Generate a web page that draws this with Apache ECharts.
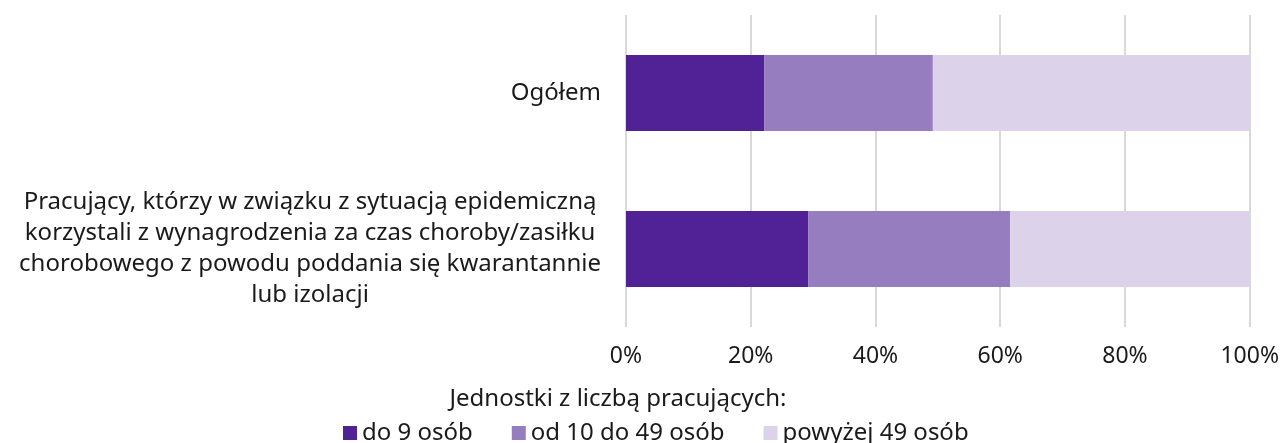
<!DOCTYPE html>
<html>
<head>
<meta charset="utf-8">
<script src="https://cdn.jsdelivr.net/npm/echarts@6/dist/echarts.min.js"></script>
<style>
  html, body { margin: 0; padding: 0; background: #fff; }
  #chart { width: 1282px; height: 443px; }
</style>
</head>
<body>
<div id="chart"></div>
<script>
  // kategorie (od góry)
  var categories = [
    'Ogółem',
    'Pracujący, którzy w związku z sytuacją epidemiczną\nkorzystali z wynagrodzenia za czas choroby/zasiłku\nchorobowego z powodu poddania się kwarantannie\nlub izolacji'
  ];
  var seriesNames = ['do 9 osób', 'od 10 do 49 osób', 'powyżej 49 osób'];
  var small = [22.2, 29.2];
  var medium = [27.0, 32.4];
  var large = [50.8, 38.4];
  var colors = ['#512295', '#967dbf', '#dcd3ea'];

  var font = 'Noto Sans';
  var fs = 24;
  var chart = echarts.init(document.getElementById('chart'));

  var values = [small, medium, large];
  var series = seriesNames.map(function (name, i) {
    return {
      name: name,
      type: 'bar',
      stack: 'total',
      barWidth: 76,
      itemStyle: { color: colors[i] },
      data: values[i]
    };
  });

  chart.setOption({
    animation: false,
    title: {
      text: 'Jednostki z liczbą pracujących:',
      left: 618,
      textAlign: 'center',
      top: 387,
      padding: 0,
      textStyle: { fontFamily: font, fontSize: fs, fontWeight: 'normal', color: '#1a1a1a' }
    },
    legend: {
      data: seriesNames,
      left: 343,
      top: 421,
      padding: 0,
      icon: 'rect',
      itemWidth: 14,
      itemHeight: 14,
      itemGap: 39,
      textStyle: { fontFamily: font, fontSize: fs, color: '#1a1a1a' }
    },
    grid: {
      left: 626,
      right: 32,
      top: 15,
      bottom: 116
    },
    xAxis: {
      type: 'value',
      min: 0,
      max: 100,
      interval: 20,
      axisLine: { show: false },
      axisTick: { show: false },
      splitLine: { lineStyle: { color: '#d9d9d9', width: 2 } },
      axisLabel: {
        formatter: '{value}%',
        margin: 18,
        fontFamily: font,
        fontSize: 23,
        color: '#1a1a1a'
      }
    },
    yAxis: {
      type: 'category',
      inverse: true,
      data: categories,
      axisLine: { show: false },
      axisTick: { show: false },
      axisLabel: {
        margin: 25,
        fontFamily: font,
        fontSize: fs,
        lineHeight: 31,
        color: '#1a1a1a',
        formatter: function (v) {
          return v.split('\n').map(function (l) { return '{c|' + l + '}'; }).join('\n');
        },
        rich: {
          c: { align: 'center', fontFamily: font, fontSize: fs, lineHeight: 31, color: '#1a1a1a' }
        }
      }
    },
    series: series
  });
</script>
</body>
</html>
